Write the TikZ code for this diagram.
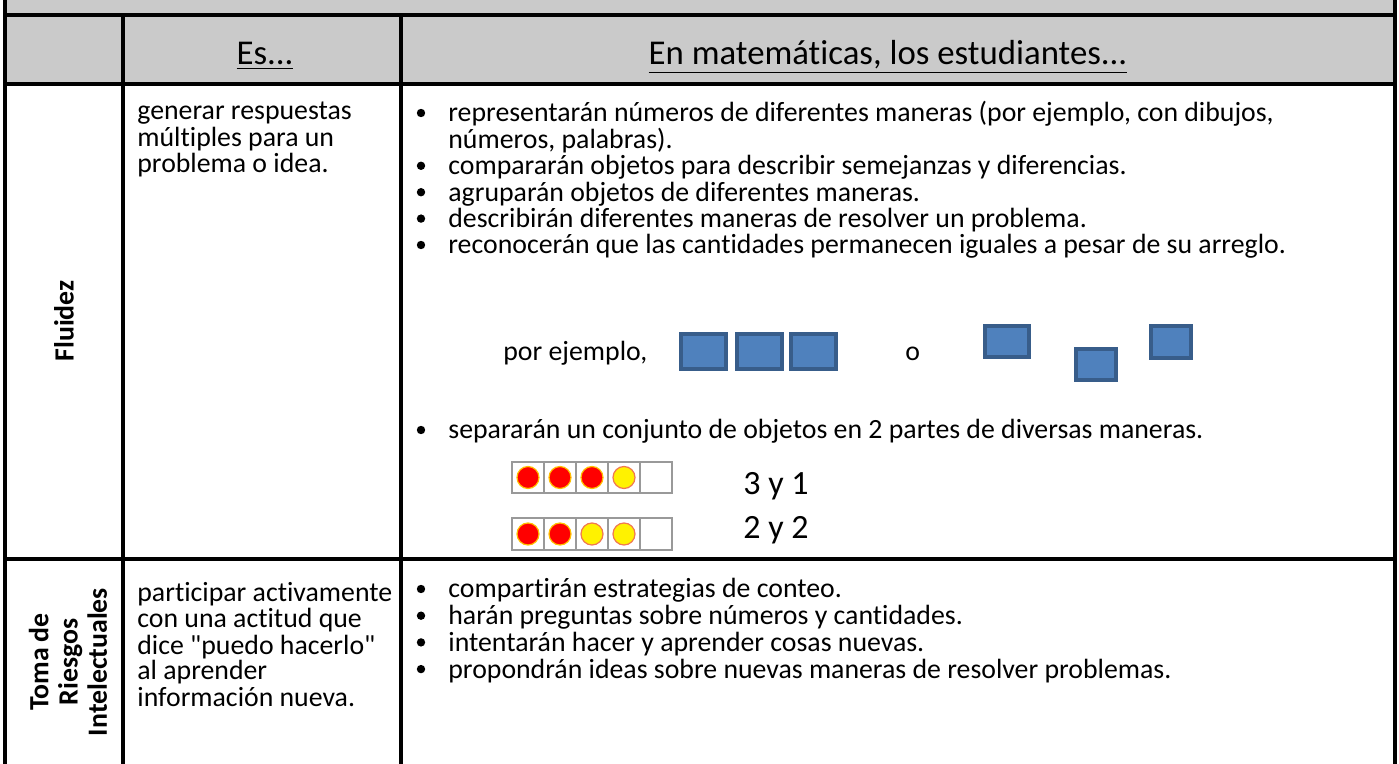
\documentclass[tikz,border=0pt]{standalone}
\usepackage{fontspec}
\setmainfont{Carlito}[Ligatures=NoCommon]
\definecolor{headgray}{HTML}{CACACA}
\definecolor{blkfill}{HTML}{4F81BD}
\definecolor{blkedge}{HTML}{385D8A}
\definecolor{ringred}{HTML}{FFC000}
\definecolor{ringyel}{HTML}{F07850}
\begin{document}
\begin{tikzpicture}[x=0.5pt,y=-0.5pt,
    rule/.style={line width=2pt},
    txt/.style={anchor=base west,inner sep=0pt,font=\fontsize{13.9}{13.2}\selectfont},
    head/.style={anchor=base,inner sep=0pt,font=\fontsize{17.4}{20}\selectfont},
    side/.style={rotate=90,align=center,inner sep=0pt,font=\fontsize{13.9}{14.6}\selectfont\bfseries},
    dot/.style={circle,fill=black,inner sep=0pt,minimum size=4.2pt},
    blk/.style={draw=blkedge,fill=blkfill,line width=2pt},
    cellbox/.style={draw=gray!80,line width=0.6pt,fill=white},
    redc/.style={circle,fill=red,draw=ringred,line width=0.6pt,inner sep=0pt,minimum size=11pt},
    yelc/.style={circle,fill=yellow,draw=ringyel,line width=0.6pt,inner sep=0pt,minimum size=11pt}]
    \useasboundingbox (0,0) rectangle (1399,764);
    % shaded title and header rows
    \fill[headgray] (5,-10) rectangle (1395,84);
    % table rules
    \draw[rule] (5,-10) -- (5,775);
    \draw[rule] (1395,-10) -- (1395,775);
    \draw[rule] (5,15) -- (1395,15);
    \draw[rule] (5,84) -- (1395,84);
    \draw[rule] (5,559) -- (1395,559);
    \draw[rule] (123,15) -- (123,775);
    \draw[rule] (401,15) -- (401,775);
    % header
    \node[head] (es) at (265,65) {\underline{Es...}};
    \node[head] (enmat) at (888,65) {\underline{En matemáticas, los estudiantes...}};
    % first column
    \node[side] (fluidez) at (64,321) {Fluidez};
    \node[side] (riesgos) at (68,662) {Toma de\\Riesgos\\Intelectuales};
    % second column
    \foreach \t [count=\i from 0] in {generar respuestas, múltiples para un, problema o idea.}
        \node[txt] (es\i) at (137,120+26.2*\i) {\t};
    \foreach \t [count=\i from 0] in {participar activamente, con una actitud que, dice \textquotedbl puedo hacerlo\textquotedbl, al aprender, información nueva.}
        \node[txt] (part\i) at (137,602+26*\i) {\t};
    % third column, Fluidez
    \foreach \t [count=\i from 0] in {{representarán números de diferentes maneras (por ejemplo, con dibujos,},
        {números, palabras).},
        compararán objetos para describir semejanzas y diferencias.,
        agruparán objetos de diferentes maneras.,
        describirán diferentes maneras de resolver un problema.,
        reconocerán que las cantidades permanecen iguales a pesar de su arreglo.}
        \node[txt] (flu\i) at (448,122+26.4*\i) {\t};
    \foreach \i in {0,2,3,4,5}
        \node[dot] (fb\i) at (421,113+26.4*\i) {};
    \node[txt] (porej) at (503,361) {por ejemplo,};
    \node[txt] (o) at (905,361) {o};
    % blue blocks
    \draw[blk] (681,334) rectangle (726,369);
    \draw[blk] (737,334) rectangle (782,369);
    \draw[blk] (791,334) rectangle (836,369);
    \draw[blk] (985,326) rectangle (1029,357);
    \draw[blk] (1076,349) rectangle (1116,380);
    \draw[blk] (1151,326) rectangle (1191,358);
    \node[txt] (sep) at (448,439) {separarán un conjunto de objetos en 2 partes de diversas maneras.};
    \node[dot] (fb6) at (421,430) {};
    % ten frames
    \foreach \k in {0,...,4} {
        \draw[cellbox] (512+32*\k,462) rectangle ++(32,31);
        \draw[cellbox] (512+32*\k,518) rectangle ++(32,32);
    }
    \foreach \k in {0,1,2} \node[redc] (ra\k) at (528+32*\k,477.5) {};
    \node[yelc] (ya3) at (624,477.5) {};
    \foreach \k in {0,1} \node[redc] (rb\k) at (528+32*\k,534) {};
    \foreach \k in {2,3} \node[yelc] (yb\k) at (528+32*\k,534) {};
    \node[txt,font=\fontsize{17}{20}\selectfont] (tres) at (743,495) {3 y 1};
    \node[txt,font=\fontsize{17}{20}\selectfont] (dos) at (743,539) {2 y 2};
    % third column, Toma de Riesgos
    \foreach \t [count=\i from 0] in {compartirán estrategias de conteo.,
        harán preguntas sobre números y cantidades.,
        intentarán hacer y aprender cosas nuevas.,
        propondrán ideas sobre nuevas maneras de resolver problemas.} {
        \node[txt] (tr\i) at (448,598+26.7*\i) {\t};
        \node[dot] (tb\i) at (421,589+26.7*\i) {};
    }
\end{tikzpicture}
\end{document}
